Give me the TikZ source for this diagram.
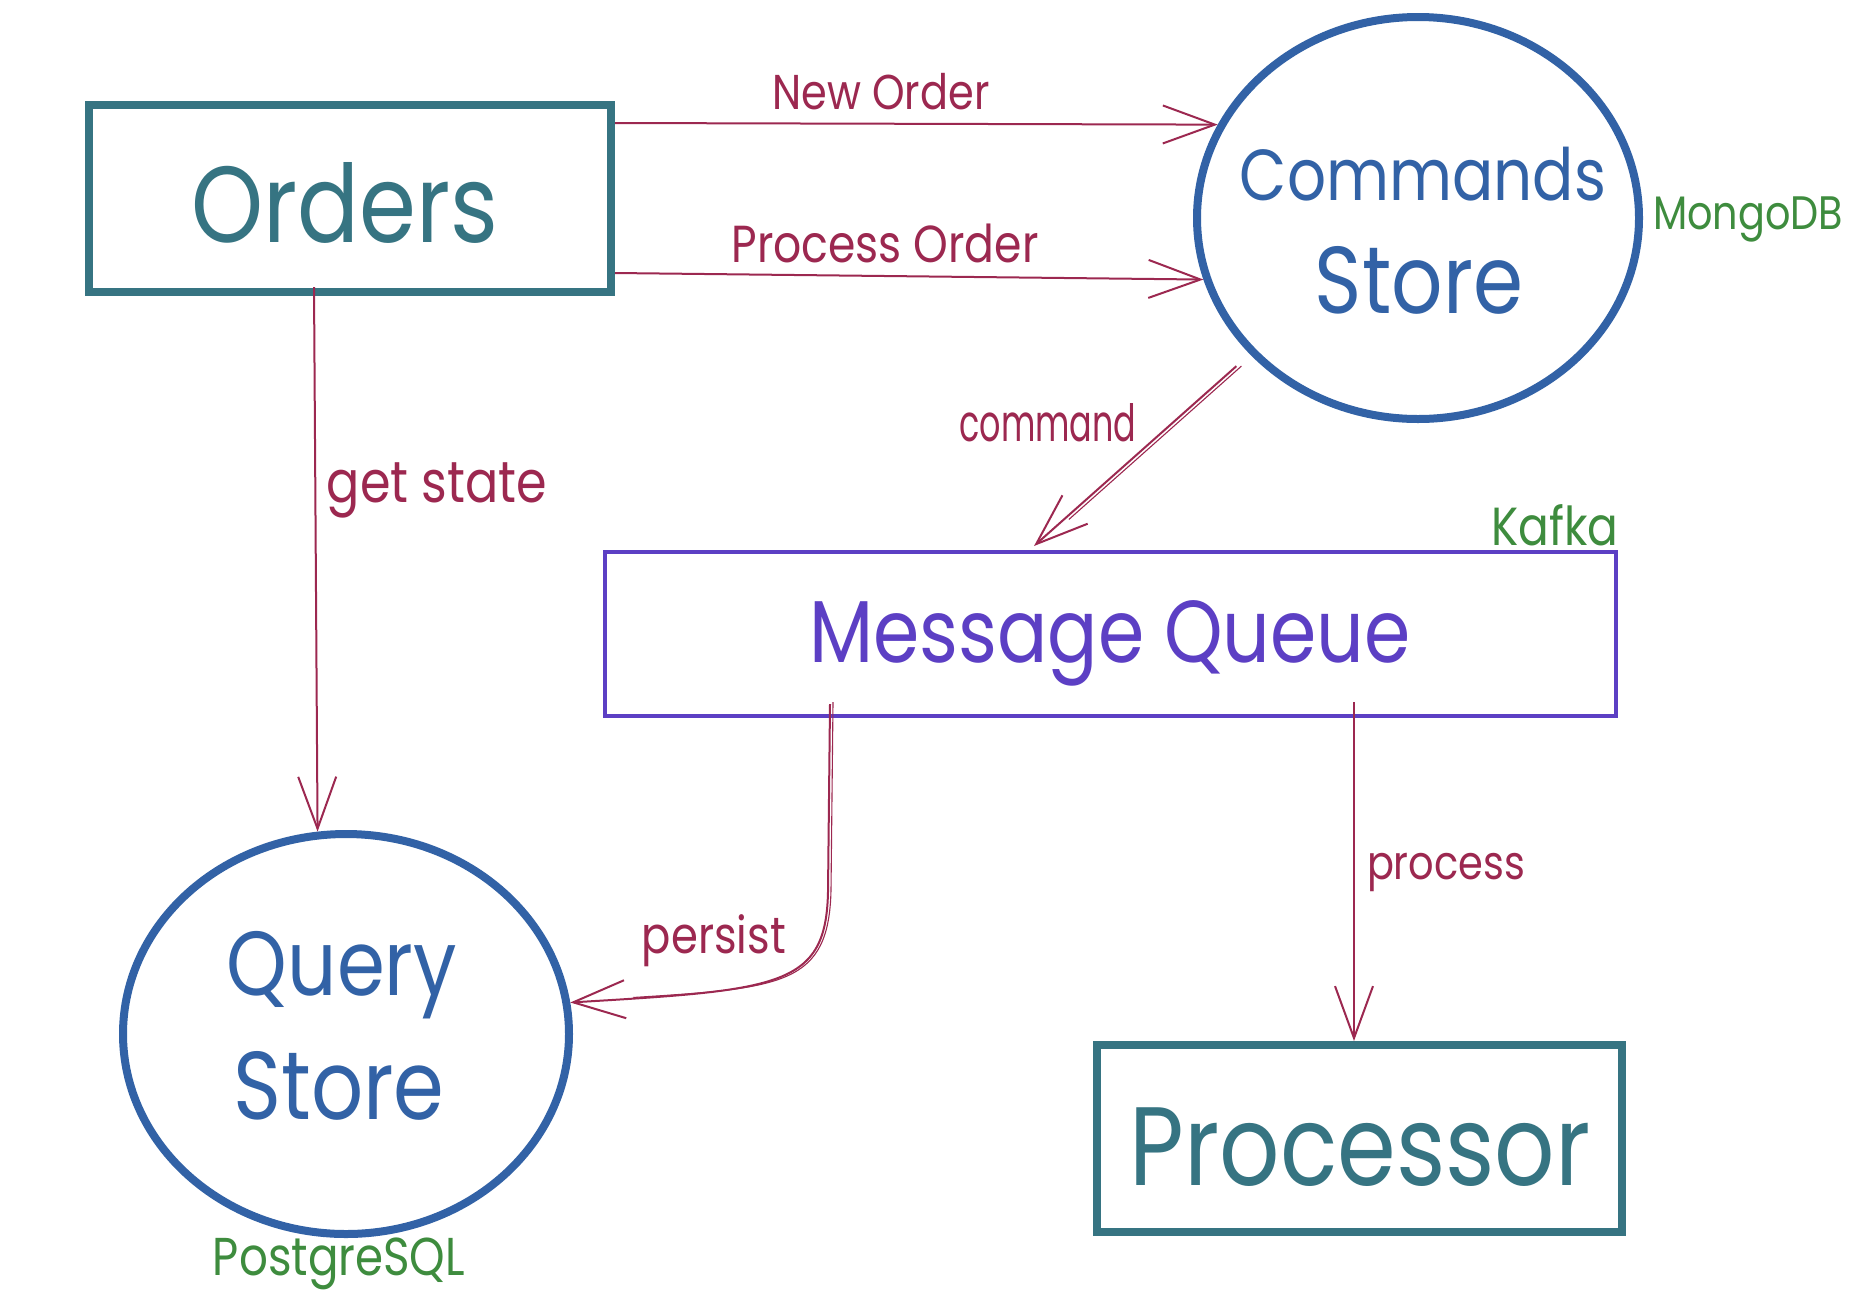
\documentclass[tikz,border=0pt]{standalone}
\usepackage{fontspec}
\setmainfont{Poppins}
\usetikzlibrary{shapes.geometric,arrows.meta,calc}
\definecolor{cteal}{HTML}{367482}
\definecolor{cblue}{HTML}{3262A6}
\definecolor{cpurple}{HTML}{5C3FC4}
\definecolor{ccrim}{HTML}{9C2850}
\definecolor{cgreen}{HTML}{3E8C3E}
\newcommand\fitw[2]{\scalebox{1}[1.18]{\resizebox{#1}{!}{#2}}}
\begin{document}
\begin{tikzpicture}[x=1pt,y=-1pt,
  boxshape/.style={draw=cteal, line width=8pt, rectangle, inner sep=0pt},
  storeshape/.style={draw=cblue, line width=8pt, ellipse, inner sep=0pt},
  queueshape/.style={draw=cpurple, line width=4pt, rectangle, inner sep=0pt},
  bigtext/.style={inner sep=0pt},
  flow/.style={draw=ccrim, line width=2pt, -{Straight Barb[length=52pt,width=38pt]}},
  flowtwin/.style={draw=ccrim, line width=1.1pt},
  flowlabel/.style={text=ccrim, inner sep=0pt},
  techlabel/.style={text=cgreen, inner sep=0pt},
]
\fill[white] (0,0) rectangle (1867,1302);
\useasboundingbox (0,0) rectangle (1867,1302);

% shapes
\node[boxshape, minimum width=522pt, minimum height=187pt] (orders) at (350,198.5) {};
\node[bigtext, text=cteal] (orderstext) at (345,203) {\fitw{307pt}{Orders}};

\node[storeshape, minimum width=442pt, minimum height=402pt] (cs) at (1418,218) {};
\node[bigtext, text=cblue] (cstext1) at (1423,174) {\fitw{366pt}{Commands}};
\node[bigtext, text=cblue] (cstext2) at (1419,280) {\fitw{208pt}{Store}};
\node[techlabel] (mongo) at (1748,219) {\fitw{190pt}{MongoDB}};

\node[queueshape, minimum width=1011pt, minimum height=164pt] (mq) at (1110.5,634) {};
\node[bigtext, text=cpurple] (mqtext) at (1110,643) {\fitw{601pt}{Message Queue}};
\node[techlabel] (kafka) at (1555,525) {\fitw{127pt}{Kafka}};

\node[storeshape, minimum width=446pt, minimum height=400pt] (qs) at (346,1034) {};
\node[bigtext, text=cblue] (qstext1) at (342,975) {\fitw{230pt}{Query}};
\node[bigtext, text=cblue] (qstext2) at (339,1086) {\fitw{211pt}{Store}};
\node[techlabel] (pg) at (339,1264) {\fitw{252pt}{PostgreSQL}};

\node[boxshape, minimum width=525pt, minimum height=187pt] (proc) at (1359.5,1138.5) {};
\node[bigtext, text=cteal] (proctext) at (1360,1147) {\fitw{461pt}{Processor}};

% connectors
\draw[flow] ([yshift=75.5pt]orders.east) -- (cs.155);
\node[flowlabel] (lnew) at (881,92) {\fitw{217pt}{New Order}};

\draw[flow] ([yshift=-74.5pt]orders.east) -- (cs.196);
\node[flowlabel] (lproc) at (885,243) {\fitw{307pt}{Process Order}};

\draw[flow, shorten <=18pt] (cs.219) -- ([xshift=-76.5pt,yshift=4pt]mq.north);
\draw[flowtwin, shorten <=18pt, shorten >=40pt, transform canvas={shift={(5pt,0pt)}}] (cs.219) -- ([xshift=-76.5pt,yshift=4pt]mq.north);
\node[flowlabel] (lcmd) at (1048,423) {\resizebox{177pt}{38pt}{command}};

\draw[flow] ([xshift=-36pt,yshift=9pt]orders.south) -- (qs.98);
\node[flowlabel] (lget) at (437,490) {\fitw{220pt}{get state}};

\draw[flow] ([xshift=-280.5pt,yshift=14pt]mq.south) -- ++(-2,188) .. controls +(-2,95) and (780,990) .. (qs.8);
\draw[flowtwin, transform canvas={shift={(3pt,2pt)}}] ([xshift=-280.5pt,yshift=14pt]mq.south) -- ++(-2,188) .. controls +(-2,95) and (780,990) .. ($(qs.8)+(60,-3)$);
\node[flowlabel] (lpersist) at (714,941) {\fitw{144pt}{persist}};

\draw[flow] ([xshift=243.5pt,yshift=16pt]mq.south) -- ([xshift=-5.5pt]proc.north);
\node[flowlabel] (lprocess) at (1446,872) {\fitw{158pt}{process}};
\end{tikzpicture}
\end{document}
